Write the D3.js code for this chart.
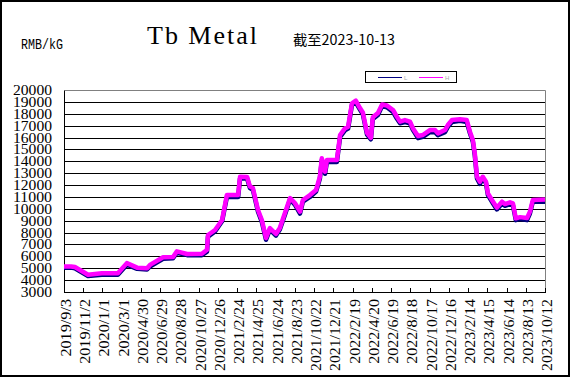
<!DOCTYPE html>
<html>
<head>
<meta charset="utf-8">
<script src="https://cdn.jsdelivr.net/npm/d3@7"></script>
<style>
  body { margin: 0; background: #fff; }
  svg { display: block; }
</style>
</head>
<body>
<svg id="chart" width="571" height="378"></svg>
<script>
// price dates
var dates = [
  '2019-09-03','2019-09-25','2019-10-07','2019-11-17','2019-12-30','2020-02-18','2020-03-17',
  '2020-04-18','2020-05-19','2020-05-28','2020-07-08','2020-08-08','2020-08-20','2020-09-21',
  '2020-11-06','2020-11-22','2020-11-25','2020-12-17','2021-01-08','2021-01-23','2021-02-27',
  '2021-03-05','2021-03-27','2021-04-05','2021-04-14','2021-04-30','2021-05-12','2021-05-25',
  '2021-06-06','2021-06-25','2021-07-07','2021-07-23','2021-08-08','2021-08-23','2021-09-08',
  '2021-09-17','2021-10-09','2021-10-28','2021-11-09','2021-11-15','2021-11-25','2021-12-01',
  '2022-01-01','2022-01-11','2022-01-26','2022-02-05','2022-02-17','2022-03-01','2022-03-14',
  '2022-03-23','2022-04-05','2022-04-17','2022-04-23','2022-05-09','2022-05-22','2022-06-06',
  '2022-06-25','2022-07-07','2022-07-17','2022-08-01','2022-08-17','2022-08-26','2022-09-11',
  '2022-09-26','2022-10-18','2022-11-03','2022-11-12','2022-12-04','2022-12-13','2022-12-26',
  '2023-01-20','2023-02-10','2023-02-20','2023-03-01','2023-03-07','2023-03-14','2023-03-23',
  '2023-04-01','2023-04-11','2023-04-17','2023-05-03','2023-05-15','2023-05-31','2023-06-09',
  '2023-06-25','2023-07-04','2023-07-13','2023-07-26','2023-08-17','2023-08-26','2023-09-04',
  '2023-10-12'
];

// H (high) price, RMB/kG
var valuesH = [
  5150,5150,5100,4450,4580,4580,5430,
  5050,5000,5280,5920,5950,6420,6200,
  6220,6550,7800,8220,9060,11160,11160,
  12700,12680,11870,11750,9900,9060,7540,
  8380,7880,8380,9650,10910,10490,9760,
  10740,11160,11580,12700,14250,13130,14110,
  14110,16210,16770,16910,18880,19100,18480,
  18100,16400,15980,17700,18060,18780,18700,
  18320,17760,17340,17470,17340,16780,16130,
  16210,16630,16630,16350,16630,17050,17470,
  17530,17470,16490,15790,14670,12700,12280,
  12700,12280,11300,10600,10100,10600,10400,
  10550,10460,9200,9300,9220,9760,10750,
  10780
];

// L (low) price, RMB/kG
var valuesL = [
  5050,5050,5000,4350,4450,4450,5300,
  4950,4900,5150,5800,5850,6300,6100,
  6100,6400,7650,8100,8950,11000,11000,
  12550,12550,11750,11600,9750,8900,7400,
  8250,7750,8250,9500,10800,10350,9600,
  10600,11000,11450,12550,14100,12950,13950,
  13950,16050,16600,16750,18750,18950,18350,
  17950,16250,15850,17550,17900,18650,18550,
  18150,17600,17200,17300,17200,16650,15950,
  16050,16450,16450,16200,16450,16900,17300,
  17400,17300,16350,15650,14500,12550,12100,
  12550,12150,11150,10450,9950,10450,10250,
  10400,10300,9050,9150,9050,9600,10600,
  10600
];

var yTicks = [3000,4000,5000,6000,7000,8000,9000,10000,11000,12000,13000,14000,15000,16000,17000,18000,19000,20000];

var xTickLabels = [
  '2019/9/3','2019/11/2','2020/1/1','2020/3/1','2020/4/30','2020/6/29','2020/8/28',
  '2020/10/27','2020/12/26','2021/2/24','2021/4/25','2021/6/24','2021/8/23','2021/10/22',
  '2021/12/21','2022/2/19','2022/4/20','2022/6/19','2022/8/18','2022/10/17','2022/12/16',
  '2023/2/14','2023/4/15','2023/6/14','2023/8/13','2023/10/12'
];

var parse = d3.timeParse('%Y-%m-%d');
var parseTick = d3.timeParse('%Y/%m/%d');

var svg = d3.select('#chart');
var plot = { left: 64, right: 545, top: 90, bottom: 292 };

var x = d3.scaleTime()
  .domain([parseTick(xTickLabels[0]), parseTick(xTickLabels[xTickLabels.length - 1])])
  .range([plot.left, plot.right]);

var y = d3.scaleLinear()
  .domain([3000, 20000])
  .range([plot.bottom, plot.top]);

// outer frame
svg.append('rect')
  .attr('x', 1).attr('y', 1)
  .attr('width', 568).attr('height', 375)
  .attr('fill', 'none').attr('stroke', '#000').attr('stroke-width', 2);

// titles
svg.append('text')
  .attr('x', 147).attr('y', 44)
  .attr('textLength', 110).attr('lengthAdjust', 'spacing')
  .style('font-family', '"Liberation Serif", serif')
  .style('font-size', '26px')
  .text('Tb Metal');

svg.append('text')
  .attr('x', 293).attr('y', 45)
  .attr('textLength', 102).attr('lengthAdjust', 'spacingAndGlyphs')
  .style('font-family', '"Noto Sans CJK SC", sans-serif')
  .style('font-size', '14px')
  .text('截至2023-10-13');

svg.append('text')
  .attr('x', 21).attr('y', 49)
  .attr('textLength', 42).attr('lengthAdjust', 'spacingAndGlyphs')
  .style('font-family', '"Liberation Mono", monospace')
  .style('font-size', '14px')
  .text('RMB/kG');

// legend
var legend = svg.append('g');
legend.append('rect')
  .attr('x', 365.5).attr('y', 71.5).attr('width', 91).attr('height', 11)
  .attr('fill', '#fff').attr('stroke', '#000').attr('stroke-width', 1);
[{ name: 'L', color: '#000080', x: 378 }, { name: 'H', color: '#ff00ff', x: 419 }].forEach(function(d) {
  legend.append('line')
    .attr('x1', d.x).attr('x2', d.x + 24)
    .attr('y1', 77.5).attr('y2', 77.5)
    .attr('stroke', d.color).attr('stroke-width', 1);
  legend.append('text')
    .attr('x', d.x + 26).attr('y', 79.5)
    .attr('fill', '#aaa')
    .style('font-family', 'Arial, sans-serif')
    .style('font-size', '6px')
    .text(d.name);
});

// horizontal grid lines
svg.append('g')
  .selectAll('line')
  .data(yTicks.slice(1, -1))
  .enter().append('line')
  .attr('x1', plot.left).attr('x2', plot.right)
  .attr('y1', function(d) { return Math.round(y(d)) + 0.5; })
  .attr('y2', function(d) { return Math.round(y(d)) + 0.5; })
  .attr('stroke', '#000').attr('stroke-width', 1);

// plot border: gray top/right, black left/bottom
svg.append('path')
  .attr('d', 'M' + (plot.left + 0.5) + ',' + (plot.top + 0.5) + 'H' + (plot.right + 0.5) + 'V' + (plot.bottom + 0.5))
  .attr('fill', 'none').attr('stroke', '#808080').attr('stroke-width', 1);
svg.append('path')
  .attr('d', 'M' + (plot.left + 0.5) + ',' + (plot.top + 0.5) + 'V' + (plot.bottom + 0.5) + 'H' + (plot.right + 0.5))
  .attr('fill', 'none').attr('stroke', '#000').attr('stroke-width', 1);

// y labels
svg.append('g')
  .selectAll('text')
  .data(yTicks)
  .enter().append('text')
  .attr('x', 52)
  .attr('y', function(d) { return y(d) + 5; })
  .attr('text-anchor', 'end')
  .attr('textLength', function(d) { return String(d).length * 7.8; })
  .attr('lengthAdjust', 'spacingAndGlyphs')
  .style('font-family', '"Liberation Serif", serif')
  .style('font-size', '15px')
  .text(function(d) { return d; });

// x ticks (pointing inward) and rotated labels
var xt = svg.append('g');
xt.selectAll('line')
  .data(xTickLabels)
  .enter().append('line')
  .attr('x1', function(d) { return Math.round(x(parseTick(d))) + 0.5; })
  .attr('x2', function(d) { return Math.round(x(parseTick(d))) + 0.5; })
  .attr('y1', plot.bottom - 4).attr('y2', plot.bottom + 1)
  .attr('stroke', '#000').attr('stroke-width', 1);

xt.selectAll('text')
  .data(xTickLabels)
  .enter().append('text')
  .attr('transform', function(d) {
    return 'translate(' + (x(parseTick(d)) + 7) + ',' + 299 + ') rotate(-90)';
  })
  .attr('text-anchor', 'end')
  .attr('textLength', function(d) { return d.length * 7.2; })
  .attr('lengthAdjust', 'spacingAndGlyphs')
  .style('font-family', '"Liberation Serif", serif')
  .style('font-size', '14px')
  .text(function(d) { return d; });

// series lines
var line = d3.line()
  .x(function(d) { return x(d.date); })
  .y(function(d) { return y(d.value); });

var seriesL = dates.map(function(d, i) { return { date: parse(d), value: valuesL[i] }; });
var seriesH = dates.map(function(d, i) { return { date: parse(d), value: valuesH[i] }; });

svg.append('path')
  .datum(seriesL)
  .attr('d', line)
  .attr('fill', 'none').attr('stroke', '#000080')
  .attr('stroke-width', 4.5).attr('stroke-linejoin', 'round');

svg.append('path')
  .datum(seriesH)
  .attr('d', line)
  .attr('fill', 'none').attr('stroke', '#ff00ff')
  .attr('stroke-width', 4.5).attr('stroke-linejoin', 'round');
</script>
</body>
</html>
